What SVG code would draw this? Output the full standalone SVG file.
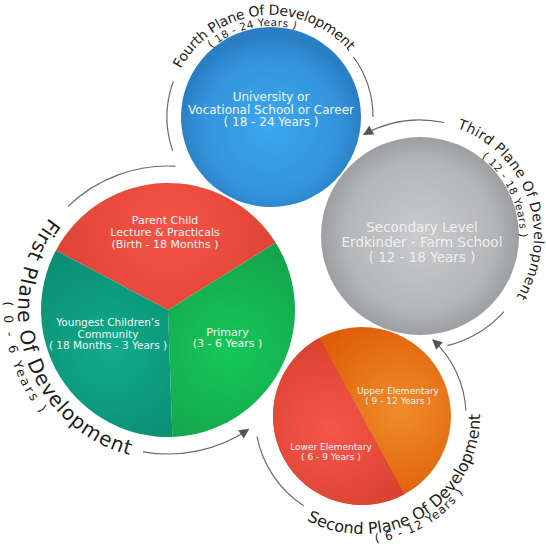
<svg xmlns="http://www.w3.org/2000/svg" width="546" height="546" viewBox="0 0 546 546">
<style>
.lbl{font-family:"DejaVu Sans","Liberation Sans",sans-serif;fill:#f5f5f5;text-anchor:middle}
.arc{fill:none;stroke:#6a6a6a;stroke-width:1.2}
.pt{font-family:"DejaVu Sans","Liberation Sans",sans-serif;fill:#1e1e1e}
</style>
<defs>
<radialGradient id="gBlue" cx="0.5" cy="0.55" r="0.5"><stop offset="0" stop-color="#3ba8ef"/><stop offset="0.75" stop-color="#3394dc"/><stop offset="1" stop-color="#2a7fc4"/></radialGradient>
<radialGradient id="gGray" cx="0.5" cy="0.5" r="0.5"><stop offset="0" stop-color="#cacbcd"/><stop offset="0.75" stop-color="#b4b6b8"/><stop offset="1" stop-color="#9c9ea1"/></radialGradient>
<radialGradient id="gRed" gradientUnits="userSpaceOnUse" cx="168" cy="230" r="127"><stop offset="0" stop-color="#f45446"/><stop offset="1" stop-color="#dc4233"/></radialGradient>
<radialGradient id="gTeal" gradientUnits="userSpaceOnUse" cx="110" cy="350" r="120"><stop offset="0" stop-color="#10ab8b"/><stop offset="1" stop-color="#0b8a70"/></radialGradient>
<radialGradient id="gGreen" gradientUnits="userSpaceOnUse" cx="230" cy="350" r="120"><stop offset="0" stop-color="#15c859"/><stop offset="1" stop-color="#14a04a"/></radialGradient>
<radialGradient id="gOrange" gradientUnits="userSpaceOnUse" cx="400" cy="410" r="95"><stop offset="0" stop-color="#f08c2c"/><stop offset="1" stop-color="#df5f08"/></radialGradient>
<radialGradient id="gRed2" gradientUnits="userSpaceOnUse" cx="330" cy="430" r="95"><stop offset="0" stop-color="#f5574a"/><stop offset="1" stop-color="#d8412f"/></radialGradient>
<marker id="arr" markerUnits="userSpaceOnUse" viewBox="0 0 10 10" refX="9" refY="5" markerWidth="11" markerHeight="10" orient="auto"><path d="M0,0 L10,5 L0,10 z" fill="#555"/></marker>
<path id="p1" d="M49.8,217.6 A150,150 0 0 0 168,460"/>
<path id="p1s" d="M4.2,301.4 A164,164 0 0 0 86,452"/>
<path id="p2" d="M306.6,520.2 A118,118 0 0 0 472.9,375.6"/>
<path id="p2s" d="M375.3,542.3 A127,127 0 0 0 481.3,459.4"/>
<path id="p3" d="M457.1,128.2 A114,114 0 0 1 477,334.7"/>
<path id="p3s" d="M481.6,157.2 A100,100 0 0 1 506.6,286"/>
<path id="p4" d="M180.9,69.1 A102,102 0 0 1 366.8,82.1"/>
<path id="p4s" d="M211.3,48.3 A91,91 0 0 1 340.7,58.5"/>
</defs>
<rect width="546" height="546" fill="#ffffff"/>

<g id="connectors">
<path class="arc" d="M68,206.4 A144,144 0 0 1 175.5,166.2"/>
<path class="arc" d="M143,451.8 A144,144 0 0 0 248.5,429.4" marker-end="url(#arr)"/>
<path class="arc" d="M257,436.4 A107,107 0 0 0 303.7,505.7"/>
<path class="arc" d="M465.9,410.6 A104,104 0 0 0 432.9,339.9" marker-end="url(#arr)"/>
<path class="arc" d="M504,311.6 A113,113 0 0 1 447.3,345.6"/>
<path class="arc" d="M444.1,122.5 A116,116 0 0 0 363.8,134.5" marker-end="url(#arr)"/>
<path class="arc" d="M172.7,150.9 A104,104 0 0 1 173.3,81.4"/>
<path class="arc" d="M353.5,57 A102,102 0 0 1 373,117"/>
</g>

<g id="fourth-plane">
<circle cx="271" cy="117" r="90" fill="url(#gBlue)"/>
<text class="lbl" font-size="12"><tspan x="271" y="101.3">University or</tspan><tspan x="271" y="113.6">Vocational School or Career</tspan><tspan x="271" y="126.3">( 18 - 24 Years )</tspan></text>
<text class="pt" font-size="14"><textPath href="#p4" textLength="199" lengthAdjust="spacing">Fourth Plane Of Development</textPath></text>
<text class="pt" font-size="10.5"><textPath href="#p4s" textLength="90" lengthAdjust="spacing">( 18 - 24 Years )</textPath></text>
</g>

<g id="third-plane">
<circle cx="420" cy="236" r="99" fill="url(#gGray)"/>
<text class="lbl" font-size="13.5" fill-opacity="0.9"><tspan x="422" y="232">Secondary Level</tspan><tspan x="422" y="247">Erdkinder - Farm School</tspan><tspan x="422" y="262">( 12 - 18 Years )</tspan></text>
<text class="pt" font-size="14"><textPath href="#p3" textLength="205" lengthAdjust="spacing">Third Plane Of Development</textPath></text>
<text class="pt" font-size="10.5"><textPath href="#p3s" textLength="92" lengthAdjust="spacing">( 12 - 18 Years )</textPath></text>
</g>

<g id="first-plane">
<path id="parent-child" d="M168,310 L55.9,250.4 A127,127 0 0 1 275.7,242.7 Z" fill="url(#gRed)"/>
<path id="primary" d="M168,310 L275.7,242.7 A127,127 0 0 1 172.4,436.9 Z" fill="url(#gGreen)"/>
<path id="youngest" d="M168,310 L172.4,436.9 A127,127 0 0 1 55.9,250.4 Z" fill="url(#gTeal)"/>
<text class="lbl" font-size="11"><tspan x="165" y="224">Parent Child</tspan><tspan x="165" y="236">Lecture &amp; Practicals</tspan><tspan x="165" y="248">(Birth - 18 Months )</tspan></text>
<text class="lbl" font-size="10.5"><tspan x="108" y="326">Youngest Children’s</tspan><tspan x="108" y="337.5">Community</tspan><tspan x="108" y="349">( 18 Months - 3 Years )</tspan></text>
<text class="lbl" font-size="11"><tspan x="227.5" y="335.7">Primary</tspan><tspan x="227.5" y="347.3">(3 - 6 Years )</tspan></text>
<text class="pt" font-size="20"><textPath href="#p1" textLength="296" lengthAdjust="spacing">First Plane Of Development</textPath></text>
<text class="pt" font-size="12.5"><textPath href="#p1s" textLength="120" lengthAdjust="spacing">( 0 - 6 Years )</textPath></text>
</g>

<g id="second-plane">
<circle cx="362" cy="416" r="89" fill="url(#gOrange)"/>
<path d="M319.5,337.8 A89,89 0 0 0 404.5,494.2 Z" fill="url(#gRed2)"/>
<text class="lbl" font-size="9"><tspan x="398" y="394">Upper Elementary</tspan><tspan x="398" y="404">( 9 - 12 Years )</tspan></text>
<text class="lbl" font-size="9"><tspan x="331" y="450">Lower Elementary</tspan><tspan x="331" y="460">( 6 - 9 Years )</tspan></text>
<text class="pt" font-size="16"><textPath href="#p2" textLength="245" lengthAdjust="spacing">Second Plane Of Development</textPath></text>
<text class="pt" font-size="12"><textPath href="#p2s" textLength="104" lengthAdjust="spacing">( 6 - 12 Years )</textPath></text>
</g>
</svg>
